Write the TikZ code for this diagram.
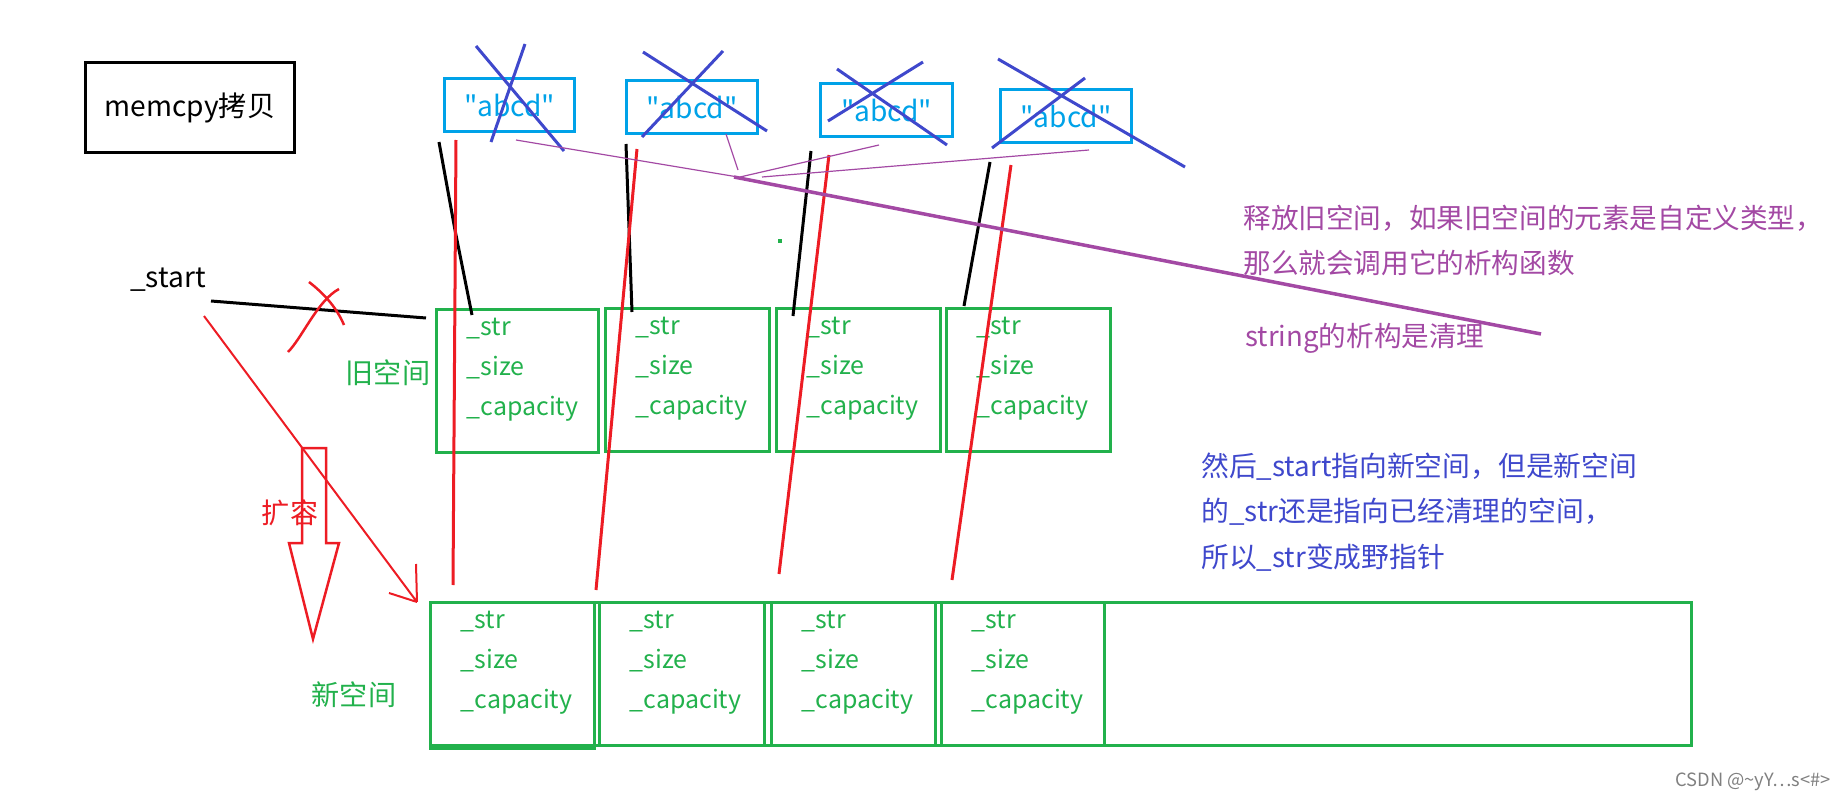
\documentclass[tikz,border=0pt]{standalone}
\usepackage{fontspec}
\setmainfont{Noto Sans CJK SC}
\usetikzlibrary{positioning,arrows}
\definecolor{pgreen}{HTML}{22B14C}
\definecolor{pcyan}{HTML}{00A2E8}
\definecolor{pblue}{HTML}{3F48CC}
\definecolor{pred}{HTML}{ED1C24}
\definecolor{ppurple}{HTML}{A349A4}
\newcommand{\qabcd}{\textquotedbl abcd\textquotedbl}

\begin{document}
\begin{tikzpicture}[x=0.01cm, y=-0.01cm, font=\fontsize{8pt}{11.4pt}\selectfont,
    lw/.style={line width=0.03cm},
    cell/.style={draw=pgreen, lw, inner sep=0pt, anchor=north west, minimum height=1.43cm},
    fields/.style={text=pgreen, align=left, inner sep=0pt, anchor=north west, font=\fontsize{7.1pt}{11.4pt}\selectfont},
    strbox/.style={draw=pcyan, lw, text=pcyan, anchor=north west, minimum width=1.31cm, minimum height=0.53cm, inner sep=0pt},
    cross/.style={draw=pblue, lw},
    oldptr/.style={draw=black, lw},
    newptr/.style={draw=pred, lw},
    thinline/.style={draw=ppurple, line width=0.012cm}]
        \useasboundingbox (0,0) rectangle (1847,800);

        \node[draw, lw, anchor=north west, minimum width=2.09cm, minimum height=0.9cm] (memcpy) at (84,61) {memcpy拷贝};

        % strings on the heap
        \node[strbox, minimum width=1.30cm] (a1) at (443,77) {\qabcd};
        \node[strbox] (a2) at (625,79) {\qabcd};
        \node[strbox, minimum width=1.32cm] (a3) at (819,82) {\qabcd};
        \node[strbox] (a4) at (999,88) {\qabcd};
        \draw[cross] (476,46) -- (564,151) (525,44) -- (491,142);
        \draw[cross] (643,52) -- (767,131) (723,51) -- (642,137);
        \draw[cross] (837,69) -- (947,145) (923,62) -- (828,121);
        \draw[cross] (998,59) -- (1185,167) (1085,78) -- (992,148);

        % old space
        \node[cell, minimum width=1.62cm] (o1) at (435,308) {};
        \node[cell, minimum width=1.64cm] (o2) at (604,307) {};
        \node[cell, minimum width=1.64cm] (o3) at (775,307) {};
        \node[cell, minimum width=1.64cm] (o4) at (945,307) {};
        \node[fields] (of1) at ([shift={(0.31cm,-0.09cm)}]o1.north west) {\_str\\\_size\\\_capacity};
        \node[fields] (of2) at ([shift={(0.31cm,-0.09cm)}]o2.north west) {\_str\\\_size\\\_capacity};
        \node[fields] (of3) at ([shift={(0.31cm,-0.09cm)}]o3.north west) {\_str\\\_size\\\_capacity};
        \node[fields] (of4) at ([shift={(0.31cm,-0.09cm)}]o4.north west) {\_str\\\_size\\\_capacity};
        \node[text=pgreen] (oldlbl) at (388,373) {旧空间};

        % new space
        \node[cell, minimum width=12.6cm] (newspace) at (429,601) {};
        \node[cell, minimum width=1.64cm] (n1) at (429,601) {};
        \node[cell, minimum width=1.65cm] (n2) at (598,601) {};
        \node[cell, minimum width=1.64cm] (n3) at (770,601) {};
        \node[cell, minimum width=1.63cm] (n4) at (940,601) {};
        \draw[pgreen, line width=0.05cm] (n1.south west) -- (n1.south east);
        \node[fields] (nf1) at ([shift={(0.31cm,-0.09cm)}]n1.north west) {\_str\\\_size\\\_capacity};
        \node[fields] (nf2) at ([shift={(0.31cm,-0.09cm)}]n2.north west) {\_str\\\_size\\\_capacity};
        \node[fields] (nf3) at ([shift={(0.31cm,-0.09cm)}]n3.north west) {\_str\\\_size\\\_capacity};
        \node[fields] (nf4) at ([shift={(0.31cm,-0.09cm)}]n4.north west) {\_str\\\_size\\\_capacity};
        \node[text=pgreen] (newlbl) at (354,695) {新空间};
        \fill[pgreen] (778,239) rectangle (782,243);

        % pointers
        \draw[oldptr] (439,142) -- (455,230) -- (472,315);
        \draw[oldptr] (626,144) -- (632,312);
        \draw[oldptr] (811,151) -- (793,316);
        \draw[oldptr] (990,162) -- (964,306);
        \draw[newptr] (456,140) -- (453,585);
        \draw[newptr] (637,149) -- (596,590);
        \draw[newptr] (829,155) -- (779,574);
        \draw[newptr] (1011,165) -- (952,580);

        % _start
        \node (start) at (168,280) {\_start};
        \coordinate (s0) at (211,301);
        \coordinate (s1) at (426,318);
        \draw[oldptr] (s0) -- (s1);
        \draw[pred, line width=0.025cm] (309,282) .. controls (322,292) and (336,306) .. (344,325);
        \draw[pred, line width=0.025cm] (339,289) .. controls (318,300) and (302,338) .. (288,352);
        \coordinate (t0) at (204,316);
        \coordinate (t1) at (417,602);
        \draw[pred, line width=0.02cm] (t0) -- (t1) (416,564) -- (t1) (389,593) -- (t1);

        % expansion arrow
        \draw[pred, line width=0.025cm] (302,448) -- (326,448) -- (326,543) -- (339,543) -- (313,639) -- (289,543) -- (302,543) -- cycle;
        \node[text=pred] (grow) at (290,513) {扩容};

        % destructor notes
        \draw[thinline] (516,140) -- (738,177);
        \draw[thinline] (726,134) -- (738,170);
        \draw[thinline] (879,145) -- (740,177);
        \draw[thinline] (1089,150) -- (762,177);
        \draw[draw=ppurple, line width=0.035cm] (734,177) -- (1541,334);
        \node[text=ppurple, align=left, anchor=west, font=\fontsize{7.85pt}{12.8pt}\selectfont] (note1) at (1231,240) {释放旧空间，如果旧空间的元素是自定义类型，\\那么就会调用它的析构函数};
        \node[text=ppurple, anchor=west, font=\fontsize{7.85pt}{12.8pt}\selectfont] (note2) at (1233,338) {string的析构是清理};
        \node[text=pblue, align=left, anchor=west, font=\fontsize{7.9pt}{12.9pt}\selectfont] (note3) at (1189,512) {然后\_start指向新空间，但是新空间\\的\_str还是指向已经清理的空间，\\所以\_str变成野指针};

        \node[text=gray, font=\fontsize{5.2pt}{6pt}\selectfont] (mark) at (1753,782) {CSDN @\textasciitilde yY…s<\#>};
\end{tikzpicture}
\end{document}
